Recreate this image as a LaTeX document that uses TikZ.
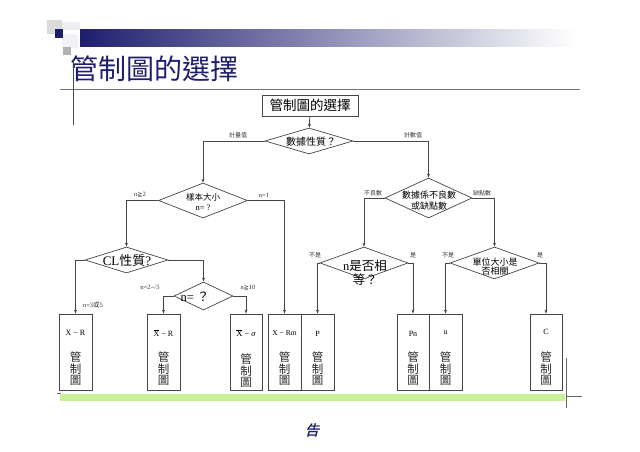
\documentclass[tikz,border=0pt]{standalone}
\usepackage{fontspec}
\setmainfont{Liberation Serif}
\newfontfamily\cjk{Noto Sans CJK TC}
\newfontfamily\cjkit[FakeSlant=0.25,FakeBold=1.5]{Noto Sans CJK TC}
\usetikzlibrary{shapes.geometric,arrows.meta}
\definecolor{navy}{RGB}{30,30,110}
\definecolor{linec}{RGB}{70,70,70}
\definecolor{barg}{RGB}{200,240,150}
\newcommand\fs[1]{\fontsize{#1}{#1}\selectfont}
\newcommand\Xbar{$\overline{\hbox{X}}$}
\begin{document}
\begin{tikzpicture}[x=1pt,y=-1pt,
 ln/.style={draw=linec,line width=0.7pt},
 arr/.style={ln,-{Stealth[length=4pt,width=3pt]}},
 dia/.style={shape=diamond,draw=linec,line width=0.7pt,inner sep=0pt},
 cbox/.style={draw=linec,line width=0.8pt,minimum width=33pt,minimum height=76pt,inner sep=0pt},
 lbl/.style={font=\cjk\fs{6},text=black!80,inner sep=0pt},
 blbl/.style={font=\fs{8},inner sep=0pt},
 bchar/.style={font=\cjk\fs{11.5},align=center,inner sep=0pt,text=black!85},
]
\useasboundingbox (0,0) rectangle (640,452);
\fill[white] (0,0) rectangle (640,452);
% header decoration
\shade[left color=navy, right color=white] (80,30) rectangle (575,47);
\fill[black!14] (47,20) rectangle (62,34);
\fill[navy!8] (62,22) rectangle (80,30);
\fill[navy!6] (62,34) rectangle (78,48);
\fill[navy] (55,29) rectangle (63,38);
\fill[black!30] (63,47) rectangle (71,55);
\node[anchor=west,font=\cjk\fs{28},text=navy,inner sep=0pt] (title) at (70,69) {管制圖的選擇};
\draw[black!55,line width=0.8pt] (60,89) -- (580,89);
\draw[black!70,line width=0.8pt] (73,60) -- (73,125);

% top box
\node[draw=linec,line width=0.8pt,minimum width=96pt,minimum height=21pt,inner sep=0pt,font=\cjk\fs{13.5}] (top) at (310,105.5) {管制圖的選擇};

% diamonds
\node[dia,minimum width=88pt,minimum height=26pt] (d1) at (309,141) {};
\node[font=\cjk\fs{10},inner sep=0pt] (d1t) at (311,142) {數據性質？};

\node[dia,minimum width=89pt,minimum height=35pt] (d2) at (203,200.5) {};
\node[font=\cjk\fs{8.5},align=center,inner sep=0pt] (d2t) at (203,202) {樣本大小\\[2pt]{\fontspec{Liberation Serif}n= ?}};

\node[dia,minimum width=87pt,minimum height=40pt] (d3) at (428.5,198) {};
\node[font=\cjk\fs{9},align=center,inner sep=0pt] (d3t) at (429,201) {數據係不良數\\[2pt]或缺點數};

\node[dia,minimum width=83pt,minimum height=26pt] (cl) at (126.5,260) {};
\node[font=\fs{13},inner sep=0pt] (clt) at (127,261) {CL{\cjk 性質}?};

\node[dia,minimum width=59pt,minimum height=28pt] (dn) at (203.5,296) {};
\node[font=\fs{12.5},inner sep=0pt] (dnt) at (195,297) {n= {\cjk ？}};

\node[dia,minimum width=88pt,minimum height=32pt] (de) at (364,263) {};
\node[font=\cjk\fs{12.5},align=center,inner sep=0pt] (det) at (365,273) {{\fontspec{Liberation Serif}n}是否相\\[1pt]等？};

\node[dia,minimum width=89pt,minimum height=32pt] (du) at (494.5,263) {};
\node[font=\cjk\fs{9},align=center,inner sep=0pt] (dut) at (495,267) {單位大小是\\[0pt]否相關};

% boxes
\node[cbox] (bXR) at (75.5,352) {};
\node[cbox] (bXbR) at (163.5,352) {};
\node[cbox,minimum width=32pt] (bXs) at (246,352) {};
\node[cbox] (bXRm) at (284.5,352) {};
\node[cbox] (bP) at (317.5,352) {};
\node[cbox,minimum width=32pt] (bPn) at (413,352) {};
\node[cbox] (bu) at (445.5,352) {};
\node[cbox,minimum width=32pt] (bC) at (546,352) {};

\node[blbl] (tXR) at (75.5,333) {X − R};
\node[blbl] (tXbR) at (163.5,333) {\Xbar{} − R};
\node[blbl,font=\fs{8.5}] (tXs) at (246,333) {\Xbar{} − {\itshape σ}};
\node[blbl,font=\fs{7.5}] (tXRm) at (284.5,333) {X − Rm};
\node[blbl] (tP) at (317.5,334) {P};
\node[blbl] (tPn) at (413,334) {Pn};
\node[blbl] (tu) at (445.5,333) {u};
\node[blbl] (tC) at (546,332) {C};

\node[bchar] (cXR) at (75.5,369) {管\\制\\圖};
\node[bchar] (cXbR) at (163.5,369) {管\\制\\圖};
\node[bchar] (cXs) at (246,371) {管\\制\\圖};
\node[bchar] (cXRm) at (284.5,369) {管\\制\\圖};
\node[bchar] (cP) at (317.5,369) {管\\制\\圖};
\node[bchar] (cPn) at (413,369) {管\\制\\圖};
\node[bchar] (cu) at (445.5,369) {管\\制\\圖};
\node[bchar] (cC) at (546,369) {管\\制\\圖};

% connectors
\draw[arr] (top) -- (d1);
\draw[arr] (d1.west) -| (d2.north);
\draw[arr] (d1.east) -| (d3.north);
\draw[arr] (d2.west) -| (cl.north);
\draw[arr] (d2.east) -| (bXRm.north);
\draw[arr] (cl.west) -| (bXR.north);
\draw[arr] (cl.east) -| (dn.north);
\draw[arr] (dn.west) -| (bXbR.north);
\draw[arr] (dn.east) -| (bXs.north);
\draw[arr] (d3.west) -| (de.north);
\draw[arr] (d3.east) -| (du.north);
\draw[arr] (de.west) -| (bP.north);
\draw[arr] (de.east) -| (bPn.north);
\draw[arr] (du.west) -| (bu.north);
\draw[arr] (du.east) -| (bC.north);

% branch labels
\node[lbl] (l1) at (238,135) {計量值};
\node[lbl] (l2) at (413,135) {計數值};
\node[lbl,font=\fs{6.5}] (l3) at (140,195) {n{\fontspec{DejaVu Sans}\fs{6}≧}2};
\node[lbl,font=\fs{6.5}] (l4) at (264,195) {n=1};
\node[lbl,font=\fs{6.5}] (l5) at (93,305) {n=3{\cjk 或}5};
\node[lbl,font=\fs{6.5}] (l6) at (150,287) {n=2$\sim$5};
\node[lbl,font=\fs{6.5}] (l7) at (248,288) {n{\fontspec{DejaVu Sans}\fs{6}≧}10};
\node[lbl] (l8) at (373,193) {不良數};
\node[lbl] (l9) at (482,193) {缺點數};
\node[lbl] (l10) at (315,255) {不是};
\node[lbl] (l11) at (413,255) {是};
\node[lbl] (l12) at (448,255) {不是};
\node[lbl] (l13) at (540,255) {是};

% bottom
\fill[barg] (60,394) rectangle (565,401);
\draw[black!60,line width=0.6pt] (57,393) -- (61,393);
\draw[black!60,line width=0.8pt] (566,358) -- (566,408);
\draw[black!60,line width=0.6pt] (566,396) -- (582,396);
\node[font=\cjkit\fs{14},text=navy,inner sep=0pt] (gao) at (312,430) {告};
\end{tikzpicture}
\end{document}
